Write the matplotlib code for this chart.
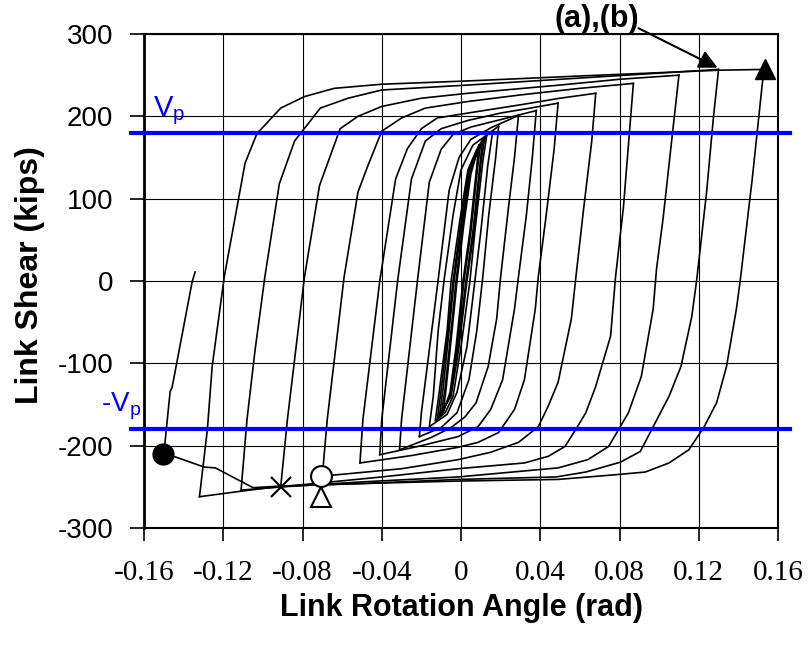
import matplotlib
matplotlib.use("Agg")
import matplotlib.pyplot as plt

plt.rcParams['font.family'] = ['Liberation Sans', 'DejaVu Sans']
plt.rcParams['mathtext.default'] = 'regular'
plt.rcParams['axes.unicode_minus'] = False

# plastic shear level
vp = 180
vp_span = [-0.1665, 0.166]

# small elastic cycles near zero
c1_x = [0.009, 0.008, 0.0045, 0.0010, -0.0025, -0.0055, -0.009, -0.0075, -0.0045, -0.002, 0.0015, 0.005, 0.009]
c1_y = [165, 140, 60, 0, -80, -135, -160, -130, -60, 0, 70, 130, 165]
c2_x = [0.011, 0.0095, 0.006, 0.0025, -0.0015, -0.0055, -0.011, -0.009, -0.006, -0.0035, 0.0005, 0.0045, 0.011]
c2_y = [172, 140, 60, 0, -80, -140, -166, -130, -60, 0, 70, 135, 172]
c3_x = [0.013, 0.011, 0.007, 0.0045, 0.0, -0.004, -0.008, -0.013, -0.011, -0.007, -0.005, -0.0005, 0.0035, 0.008, 0.013]
c3_y = [177, 145, 60, 0, -80, -140, -160, -170, -135, -60, 0, 75, 135, 160, 177]
c4_x = [0.016, 0.0135, 0.01, 0.007, 0.003, -0.002, -0.007, -0.016, -0.014, -0.0115, -0.0086, -0.004, 0.0, 0.006, 0.019]
c4_y = [182, 140, 60, 0, -80, -135, -162, -177, -140, -60, 0, 80, 135, 165, 188]
c5_x = [0.010, 0.0085, 0.005, 0.0015, -0.002, -0.005, -0.010, -0.008, -0.005, -0.0025, 0.001, 0.0045, 0.010]
c5_y = [168, 140, 60, 0, -80, -135, -163, -130, -60, 0, 70, 132, 168]
c6_x = [0.012, 0.010, 0.0065, 0.0030, -0.001, -0.005, -0.012, -0.010, -0.0065, -0.004, 0.0, 0.004, 0.012]
c6_y = [175, 142, 60, 0, -80, -140, -168, -132, -60, 0, 72, 135, 175]

# unloading branches (from positive peak to negative peak)
d019_x = [0.019, 0.0175, 0.014, 0.011, 0.008, 0.004, -0.002, -0.010, -0.021]
d019_y = [188, 150, 80, 5, -60, -120, -160, -178, -189]
d029_x = [0.029, 0.027, 0.024, 0.020, 0.018, 0.0137, 0.0076, 0.002, -0.005, -0.015, -0.031]
d029_y = [201, 150, 90, 5, -46, -104, -148, -165, -178, -190, -205]
d038_x = [0.038, 0.036, 0.033, 0.029, 0.027, 0.021, 0.015, 0.0086, -0.0015, -0.02, -0.041]
d038_y = [207, 150, 80, 5, -34, -120, -156, -177, -189, -200, -211]
d049_x = [0.049, 0.047, 0.043, 0.039, 0.0375, 0.032, 0.027, 0.019, 0.0086, -0.0015, -0.025, -0.051]
d049_y = [216, 160, 80, 5, -34, -120, -156, -184, -196, -202, -212, -221]
d068_x = [0.068, 0.066, 0.062, 0.058, 0.0557, 0.049, 0.044, 0.039, 0.029, 0.015, -0.0015, -0.03, -0.070]
d068_y = [228, 170, 90, 5, -46, -123, -152, -177, -196, -208, -217, -228, -237]
d087_x = [0.087, 0.085, 0.082, 0.078, 0.0755, 0.068, 0.063, 0.058, 0.0525, 0.044, 0.032, -0.0015, -0.04, -0.091]
d087_y = [240, 180, 90, 5, -67, -128, -160, -180, -201, -213, -221, -228, -238, -250]
d110_x = [0.110, 0.107, 0.102, 0.0987, 0.097, 0.091, 0.0845, 0.0745, 0.064, 0.049, -0.0015, -0.05, -0.09, -0.111]
d110_y = [250, 185, 76, 15, -34, -116, -160, -201, -217, -227, -238, -244, -250, -254]
d130_x = [0.130, 0.1275, 0.124, 0.119, 0.1165, 0.111, 0.105, 0.097, 0.0905, 0.0805, 0.063, 0.048, -0.0015, -0.05, -0.09, -0.11, -0.132]
d130_y = [257, 201, 109, 2, -43, -104, -140, -177, -207, -220, -232, -238, -241, -246, -249, -255, -262]
d153_x = [0.153, 0.152, 0.147, 0.141, 0.139, 0.134, 0.129, 0.1225, 0.115, 0.105, 0.093, 0.0795, 0.049, -0.0015,
          -0.05, -0.09, -0.105, -0.124, -0.1296, -0.145, -0.1504]
d153_y = [257, 238, 124, 2, -34, -104, -148, -178, -205, -221, -232, -235, -241, -243,
          -246, -249, -251, -227, -226, -213, -210]

# reloading branches (from negative peak to next positive peak)
u021_x = [-0.021, -0.020, -0.0116, -0.006, -0.001, 0.005, 0.015, 0.029]
u021_y = [-189, -160, 0, 110, 150, 172, 186, 201]
u031_x = [-0.031, -0.030, -0.022, -0.016, -0.010, -0.004, 0.005, 0.02, 0.038]
u031_y = [-205, -168, 0, 120, 160, 178, 187, 196, 207]
u041_x = [-0.041, -0.040, -0.032, -0.025, -0.018, -0.010, 0.0035, 0.02, 0.035, 0.049]
u041_y = [-211, -168, 0, 124, 170, 185, 195, 204, 210, 216]
u051_x = [-0.051, -0.0495, -0.041, -0.033, -0.027, -0.020, -0.012, 0.0035, 0.03, 0.05, 0.068]
u051_y = [-221, -168, 0, 124, 161, 185, 198, 204, 214, 222, 228]
u070_x = [-0.070, -0.0675, -0.059, -0.052, -0.047, -0.040, -0.030, -0.018, 0.0035, 0.03, 0.06, 0.087]
u070_y = [-237, -168, 5, 108, 140, 182, 198, 210, 218, 226, 234, 240]
u091_x = [-0.091, -0.0876, -0.079, -0.0714, -0.061, -0.052, -0.040, -0.020, 0.0035, 0.05, 0.08, 0.110]
u091_y = [-250, -168, 5, 116, 185, 200, 212, 222, 228, 238, 245, 250]
u111_x = [-0.111, -0.108, -0.104, -0.099, -0.0917, -0.084, -0.071, -0.057, -0.040, 0.0035, 0.05, 0.09, 0.130]
u111_y = [-254, -168, -85, 5, 118, 170, 210, 222, 232, 238, 245, 251, 257]
u132_x = [-0.132, -0.128, -0.1256, -0.1195, -0.109, -0.103, -0.091, -0.079, -0.064, -0.040, 0.0035, 0.06, 0.10, 0.13, 0.153]
u132_y = [-262, -180, -104, 5, 143, 179, 210, 224, 234, 239, 243, 249, 253, 256, 257]
# last reloading after fracture
u150_x = [-0.1504, -0.1494, -0.1468, -0.1458, -0.1357, -0.1342]
u150_y = [-210, -196, -134, -129, -1, 11]

# event markers
fill_circle = (-0.1504, -210)
star_pt = (-0.0906, -250)
open_circle = (-0.0709, -237)
open_tri = (-0.0709, -262)
fill_tri = (0.1534, 258)

xticks = [-0.16, -0.12, -0.08, -0.04, 0, 0.04, 0.08, 0.12, 0.16]
xtick_labels = ['-0.16', '-0.12', '-0.08', '-0.04', '0', '0.04', '0.08', '0.12', '0.16']
yticks = [-300, -200, -100, 0, 100, 200, 300]

fig = plt.figure(figsize=(8.11, 6.45), dpi=100)
ax = fig.add_axes([144/811, 117/645, 634/811, 494/645])

branches = [(c1_x, c1_y), (c2_x, c2_y), (c3_x, c3_y), (c5_x, c5_y), (c6_x, c6_y), (c4_x, c4_y),
            (d019_x, d019_y), (u021_x, u021_y), (d029_x, d029_y), (u031_x, u031_y),
            (d038_x, d038_y), (u041_x, u041_y), (d049_x, d049_y), (u051_x, u051_y),
            (d068_x, d068_y), (u070_x, u070_y), (d087_x, d087_y), (u091_x, u091_y),
            (d110_x, d110_y), (u111_x, u111_y), (d130_x, d130_y), (u132_x, u132_y),
            (d153_x, d153_y), (u150_x, u150_y)]
for bx, by in branches:
    ax.plot(bx, by, color='black', lw=1.2, zorder=3)

ax.plot(vp_span, [vp, vp], color='blue', lw=3, clip_on=False, zorder=4)
ax.plot(vp_span, [-vp, -vp], color='blue', lw=3, clip_on=False, zorder=4)
ax.text(-0.1555, 200, '$V_p$', color='blue', fontsize=21, va='baseline', ha='left')
ax.text(-0.1815, -158, '-$V_p$', color='blue', fontsize=20, va='baseline', ha='left')

ax.plot(*fill_circle, 'o', ms=15, color='black', zorder=5)
ax.plot(*star_pt, 'x', ms=15, mew=1.5, color='black', zorder=5)
ax.plot(*open_circle, 'o', ms=15, mfc='white', mec='black', mew=1.5, zorder=5)
ax.plot(*open_tri, '^', ms=15, mfc='white', mec='black', mew=1.5, zorder=5, clip_on=False)
ax.plot(*fill_tri, '^', ms=15, color='black', zorder=5, clip_on=False)

ax.text(0.0685, 318, '(a),(b)', fontsize=22, fontweight='bold', ha='center', va='center')
ax.annotate('', xy=(0.1295, 259), xytext=(0.0896, 307), annotation_clip=False,
            arrowprops=dict(arrowstyle='-|>', mutation_scale=28, lw=1.5, color='black',
                            shrinkA=0, shrinkB=0))

ax.set_xlim(-0.16, 0.16)
ax.set_ylim(-300, 300)
ax.set_xticks(xticks)
ax.set_xticklabels(xtick_labels, fontfamily='Liberation Serif', fontsize=21)
ax.set_yticks(yticks)
ax.tick_params(axis='y', labelsize=20, length=10, width=1.2, pad=12)
ax.tick_params(axis='x', length=9, width=1.2, pad=14)
ax.grid(True, color='black', lw=0.8, zorder=0)
ax.set_axisbelow(True)
for s in ax.spines.values():
    s.set_linewidth(1.5)
ax.spines['left'].set_linewidth(2)

ax.set_xlabel('Link Rotation Angle (rad)', fontsize=22, fontweight='bold', va='center')
ax.xaxis.set_label_coords(0.5, -0.162)
ax.set_ylabel('Link Shear (kips)', fontsize=23, fontweight='bold', va='center')
ax.yaxis.set_label_coords(-0.18, 0.512)

fig.savefig('out.png', dpi=100)
